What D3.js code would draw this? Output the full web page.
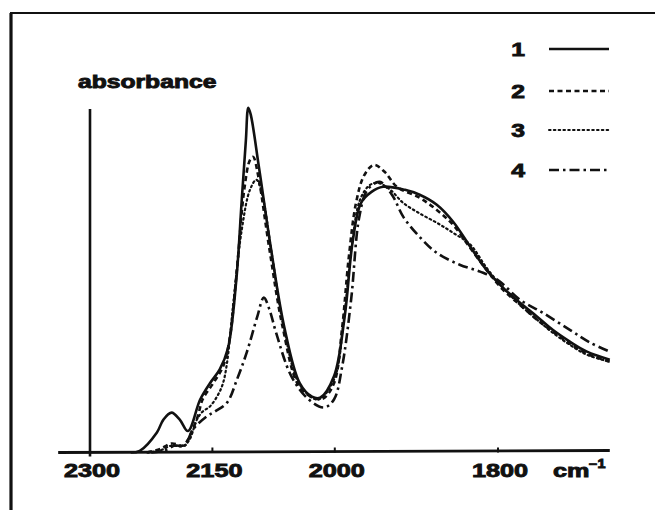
<!DOCTYPE html>
<html>
<head>
<meta charset="utf-8">
<script src="https://d3js.org/d3.v7.min.js"></script>
<style>
    body { margin: 0; background: #fff; }
    svg text { font-family: "Liberation Sans", Arial, sans-serif; font-weight: bold; fill: #111; stroke: #111; stroke-width: 0.9; }
</style>
</head>
<body>
<div id="chart"></div>
<script>
// Spectra (wavenumber in cm-1, absorbance in arbitrary units)
var nu1 = [2250, 2239, 2218, 2210, 2200, 2190, 2180, 2165, 2153, 2141, 2131, 2121, 2114, 2109, 2106, 2103, 2093, 2078, 2062, 2043, 2028, 2018, 2001, 1988, 1978, 1968, 1955, 1941, 1914, 1896, 1875, 1855, 1834, 1814, 1794, 1773, 1752, 1733, 1712, 1691, 1663];
var abs1 = [0, 0.005, 0.058, 0.095, 0.115, 0.095, 0.062, 0.153, 0.20, 0.24, 0.30, 0.49, 0.73, 0.90, 0.995, 0.975, 0.824, 0.585, 0.363, 0.20, 0.161, 0.158, 0.22, 0.39, 0.61, 0.72, 0.752, 0.767, 0.758, 0.744, 0.715, 0.666, 0.594, 0.527, 0.476, 0.432, 0.392, 0.354, 0.32, 0.291, 0.268];

var nu2 = [2230, 2214, 2200, 2186, 2180, 2168, 2162, 2149, 2137, 2129, 2120, 2111, 2104, 2100, 2094, 2080, 2064, 2045, 2028, 2015, 2001, 1991, 1983, 1974, 1964, 1952, 1939, 1924, 1896, 1875, 1855, 1834, 1814, 1794, 1773, 1752, 1733, 1712, 1691, 1663];
var abs2 = [0, 0.01, 0.026, 0.02, 0.037, 0.104, 0.153, 0.20, 0.248, 0.326, 0.527, 0.758, 0.844, 0.853, 0.80, 0.585, 0.363, 0.196, 0.16, 0.155, 0.20, 0.36, 0.56, 0.72, 0.80, 0.83, 0.81, 0.767, 0.735, 0.70, 0.657, 0.59, 0.527, 0.47, 0.426, 0.383, 0.349, 0.314, 0.285, 0.262];

var nu3 = [2230, 2214, 2200, 2186, 2178, 2169, 2162, 2153, 2143, 2137, 2132, 2124, 2114, 2104, 2096, 2089, 2077, 2062, 2043, 2021, 2001, 1989, 1979, 1969, 1957, 1947, 1932, 1916, 1896, 1875, 1855, 1834, 1814, 1794, 1773, 1752, 1733, 1712, 1691, 1663];
var abs3 = [0, 0.006, 0.02, 0.018, 0.037, 0.095, 0.118, 0.133, 0.167, 0.20, 0.26, 0.44, 0.643, 0.758, 0.787, 0.744, 0.57, 0.354, 0.196, 0.153, 0.21, 0.383, 0.60, 0.73, 0.772, 0.778, 0.758, 0.72, 0.69, 0.663, 0.634, 0.60, 0.533, 0.476, 0.426, 0.383, 0.346, 0.311, 0.282, 0.262];

var nu4 = [2225, 2208, 2196, 2184, 2174, 2157, 2147, 2132, 2120, 2108, 2095, 2087, 2080, 2072, 2053, 2032, 2013, 2001, 1991, 1980, 1970, 1960, 1945, 1930, 1916, 1896, 1875, 1847, 1822, 1801, 1773, 1745, 1712, 1687, 1663];
var abs4 = [0, 0.006, 0.02, 0.02, 0.066, 0.104, 0.118, 0.144, 0.21, 0.288, 0.392, 0.447, 0.412, 0.346, 0.219, 0.153, 0.13, 0.153, 0.248, 0.441, 0.68, 0.758, 0.781, 0.744, 0.68, 0.622, 0.576, 0.542, 0.522, 0.499, 0.441, 0.403, 0.354, 0.317, 0.291];

var seriesNames = ["1", "2", "3", "4"];
var tickValues = [2300, 2150, 2000, 1800];
var yLabel = "absorbance";

var width = 655, height = 510;
var baseY = 452.5;

var dashes = ["none", "5,3.5", "1.6,3.2", "10,4,2.5,4"];

var svg = d3.select("#chart")
    .append("svg")
    .attr("width", width)
    .attr("height", height);

var x = d3.scaleLinear().domain([2300, 1800]).range([90, 498]);
var y = d3.scaleLinear().domain([0, 1]).range([baseY, 106]);

// stretched heavy lettering like the original plot
var label = function(tx, ty, str, size, sx, anchor) {
    return svg.append("g")
        .attr("transform", "translate(" + tx + "," + ty + ")")
        .append("text")
        .attr("transform", "scale(" + sx + ",1)")
        .attr("text-anchor", anchor || "middle")
        .style("font-size", size + "px")
        .text(str);
};

// frame
svg.append("line")
    .attr("x1", 11).attr("y1", 13).attr("x2", 11).attr("y2", height)
    .attr("stroke", "#111").attr("stroke-width", 3.2);
svg.append("line")
    .attr("x1", 10).attr("y1", 13).attr("x2", width).attr("y2", 13)
    .attr("stroke", "#111").attr("stroke-width", 2.2);

// axes
svg.append("line")
    .attr("x1", x(2339)).attr("y1", baseY).attr("x2", x(1663)).attr("y2", baseY - 2)
    .attr("stroke", "#111").attr("stroke-width", 2.8);
svg.append("line")
    .attr("x1", x(2300)).attr("y1", 109).attr("x2", x(2300)).attr("y2", baseY + 4)
    .attr("stroke", "#111").attr("stroke-width", 2.6);

tickValues.slice(1).forEach(function(t) {
    svg.append("line")
        .attr("x1", x(t)).attr("y1", baseY - 5)
        .attr("x2", x(t)).attr("y2", baseY)
        .attr("stroke", "#111").attr("stroke-width", 2);
});
tickValues.forEach(function(t) {
    label(x(t) + 2, 477, t, 19, 1.33);
});
label(553, 477, "cm", 19, 1.33, "start");
label(589, 468, "\u22121", 12, 1.2, "start");

label(78, 88, yLabel, 18, 1.37, "start");

// spectra
var line = d3.line()
    .x(function(d) { return x(d[0]); })
    .y(function(d) { return y(d[1]); })
    .curve(d3.curveCatmullRom.alpha(0.5));

var spectra = [d3.zip(nu1, abs1), d3.zip(nu2, abs2), d3.zip(nu3, abs3), d3.zip(nu4, abs4)];

spectra.forEach(function(pts, i) {
    svg.append("path")
        .attr("d", line(pts))
        .attr("fill", "none")
        .attr("stroke", "#111")
        .attr("stroke-width", i == 2 ? 2.2 : 2.6)
        .attr("stroke-linecap", i == 2 ? "round" : "butt")
        .attr("stroke-dasharray", dashes[i]);
});

// legend
var legendY = [49, 91, 130, 170];
seriesNames.forEach(function(name, i) {
    label(518, legendY[i] + 7, name, 19, 1.3);
    svg.append("line")
        .attr("x1", 549).attr("y1", legendY[i])
        .attr("x2", 609).attr("y2", legendY[i])
        .attr("stroke", "#111")
        .attr("stroke-width", i == 2 ? 2 : 2.6)
        .attr("stroke-linecap", i == 2 ? "round" : "butt")
        .attr("stroke-dasharray", dashes[i]);
});
</script>
</body>
</html>
